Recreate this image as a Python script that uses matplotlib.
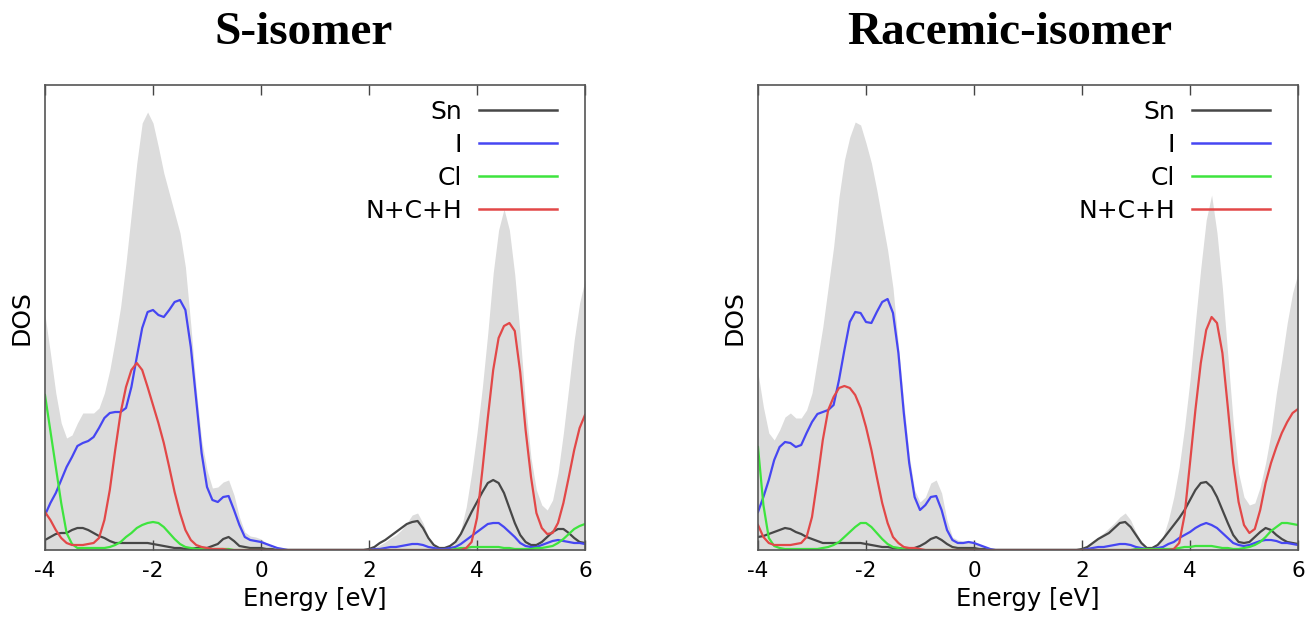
import numpy as np
import matplotlib.pyplot as plt

# energy grid, -4 .. 6 eV in 0.1 eV steps
energy = np.linspace(-4.0, 6.0, 101)

# DOS (arb. units), rows of ten points: -4.0..-3.1, -3.0..-2.1, ... , 5.0..5.9, 6.0
s_total = [
    235, 197, 157, 127, 112, 115, 127, 137, 137, 137,
    142, 157, 180, 210, 243, 287, 337, 387, 427, 438,
    427, 403, 377, 357, 337, 317, 283, 225, 162, 110,
    80, 62, 63, 68, 70, 55, 33, 18, 14, 13,
    11, 7, 3, 1, 0, 0, 0, 0, 0, 0,
    0, 0, 0, 0, 0, 0, 0, 0, 0, 0,
    0, 2, 5, 8, 12, 15, 20, 27, 35, 37,
    27, 13, 5, 2, 2, 3, 7, 20, 43, 77,
    117, 163, 217, 277, 320, 341, 320, 275, 215, 145,
    92, 60, 45, 40, 50, 77, 117, 163, 210, 247,
    270,
]
s_sn = [
    10, 13, 16, 17, 17, 20, 22, 22, 20, 17,
    14, 12, 9, 7, 7, 7, 7, 7, 7, 7,
    6, 5, 4, 3, 2, 2, 1, 1, 2, 2,
    2, 4, 6, 11, 13, 9, 4, 3, 2, 2,
    2, 1, 1, 0, 0, 0, 0, 0, 0, 0,
    0, 0, 0, 0, 0, 0, 0, 0, 0, 0,
    1, 3, 7, 10, 14, 18, 22, 26, 28, 29,
    22, 12, 5, 2, 2, 4, 8, 16, 27, 38,
    48, 58, 67, 70, 67, 57, 42, 27, 15, 8,
    5, 5, 8, 13, 18, 21, 21, 17, 12, 8,
    7,
]
s_i = [
    35, 47, 57, 70, 83, 93, 104, 107, 109, 113,
    122, 132, 137, 138, 138, 142, 163, 193, 222, 238,
    240, 235, 233, 240, 248, 250, 240, 203, 150, 97,
    63, 50, 48, 53, 54, 40, 25, 13, 10, 9,
    8, 6, 4, 2, 1, 0, 0, 0, 0, 0,
    0, 0, 0, 0, 0, 0, 0, 0, 0, 0,
    0, 1, 1, 2, 3, 3, 4, 5, 6, 6,
    5, 3, 2, 1, 1, 2, 3, 6, 10, 14,
    18, 22, 26, 27, 27, 23, 18, 13, 7, 4,
    3, 3, 5, 7, 9, 10, 9, 8, 7, 7,
    6,
]
s_cl = [
    155, 119, 83, 47, 17, 6, 2, 2, 2, 2,
    2, 2, 3, 5, 8, 13, 17, 22, 25, 27,
    28, 27, 23, 17, 11, 6, 3, 2, 1, 1,
    1, 1, 1, 1, 1, 0, 0, 0, 0, 0,
    0, 0, 0, 0, 0, 0, 0, 0, 0, 0,
    0, 0, 0, 0, 0, 0, 0, 0, 0, 0,
    0, 0, 0, 0, 0, 0, 0, 0, 0, 0,
    0, 0, 0, 0, 0, 0, 1, 2, 2, 3,
    3, 3, 3, 3, 3, 2, 2, 1, 1, 1,
    1, 2, 2, 3, 4, 7, 11, 16, 21, 24,
    26,
]
s_nch = [
    38, 30, 20, 12, 7, 5, 5, 5, 6, 7,
    12, 30, 60, 100, 137, 163, 180, 187, 180, 163,
    145, 127, 107, 83, 58, 37, 20, 10, 5, 3,
    2, 1, 1, 1, 0, 0, 0, 0, 0, 0,
    0, 0, 0, 0, 0, 0, 0, 0, 0, 0,
    0, 0, 0, 0, 0, 0, 0, 0, 0, 0,
    0, 0, 0, 0, 0, 0, 0, 0, 0, 0,
    0, 0, 0, 0, 0, 0, 0, 0, 2, 8,
    32, 80, 132, 180, 212, 224, 227, 219, 178, 120,
    73, 37, 22, 16, 17, 27, 47, 73, 100, 122,
    135,
]

r_total = [
    177, 143, 117, 110, 120, 133, 137, 132, 132, 140,
    157, 190, 223, 263, 303, 353, 390, 413, 428, 425,
    407, 387, 360, 330, 300, 262, 205, 148, 95, 60,
    48, 53, 67, 70, 57, 30, 13, 10, 9, 9,
    8, 5, 3, 1, 0, 0, 0, 0, 0, 0,
    0, 0, 0, 0, 0, 0, 0, 0, 0, 0,
    0, 3, 8, 13, 17, 22, 27, 33, 37, 30,
    18, 8, 3, 2, 5, 13, 30, 53, 83, 123,
    170, 228, 282, 330, 355, 317, 262, 195, 128, 77,
    53, 45, 47, 63, 87, 117, 157, 190, 227, 257,
    277,
]
r_sn = [
    13, 14, 16, 18, 20, 22, 21, 18, 16, 13,
    11, 9, 7, 7, 7, 7, 7, 7, 7, 7,
    6, 5, 4, 3, 3, 2, 2, 1, 1, 2,
    4, 7, 11, 13, 10, 6, 3, 2, 2, 2,
    2, 1, 1, 0, 0, 0, 0, 0, 0, 0,
    0, 0, 0, 0, 0, 0, 0, 0, 0, 0,
    1, 3, 7, 11, 14, 17, 22, 27, 28, 23,
    15, 7, 2, 2, 5, 11, 18, 25, 32, 40,
    50, 60, 67, 68, 63, 53, 40, 27, 15, 8,
    7, 8, 13, 18, 22, 20, 15, 11, 8, 7,
    6,
]
r_i = [
    38, 53, 70, 90, 103, 108, 107, 103, 105, 117,
    128, 136, 138, 140, 145, 170, 200, 228, 238, 237,
    228, 227, 238, 248, 251, 237, 197, 137, 87, 53,
    40, 45, 53, 54, 40, 20, 10, 7, 7, 8,
    7, 5, 3, 1, 0, 0, 0, 0, 0, 0,
    0, 0, 0, 0, 0, 0, 0, 0, 0, 0,
    0, 1, 2, 3, 3, 4, 5, 6, 6, 5,
    3, 2, 1, 1, 2, 3, 6, 8, 12, 15,
    18, 22, 25, 27, 25, 22, 17, 12, 7, 5,
    4, 5, 7, 9, 10, 10, 9, 7, 7, 6,
    5,
]
r_cl = [
    103, 45, 12, 4, 2, 1, 1, 1, 1, 1,
    1, 1, 2, 3, 5, 8, 13, 18, 23, 27,
    27, 23, 17, 11, 6, 3, 2, 1, 0, 0,
    0, 0, 0, 0, 0, 0, 0, 0, 0, 0,
    0, 0, 0, 0, 0, 0, 0, 0, 0, 0,
    0, 0, 0, 0, 0, 0, 0, 0, 0, 0,
    0, 0, 0, 0, 0, 0, 0, 0, 0, 0,
    1, 1, 1, 1, 1, 1, 1, 1, 2, 3,
    3, 4, 4, 4, 4, 3, 2, 2, 1, 1,
    2, 3, 5, 8, 13, 19, 23, 27, 27, 26,
    25,
]
r_nch = [
    25, 13, 7, 5, 5, 5, 5, 6, 7, 13,
    33, 70, 110, 140, 153, 162, 164, 162, 155, 142,
    123, 100, 73, 47, 27, 13, 7, 3, 2, 2,
    1, 0, 0, 0, 0, 0, 0, 0, 0, 0,
    0, 0, 0, 0, 0, 0, 0, 0, 0, 0,
    0, 0, 0, 0, 0, 0, 0, 0, 0, 0,
    0, 0, 0, 0, 0, 0, 0, 0, 0, 0,
    0, 0, 0, 0, 0, 0, 0, 1, 7, 35,
    87, 140, 187, 220, 233, 227, 197, 143, 87, 48,
    25, 17, 21, 40, 67, 87, 103, 117, 128, 137,
    141,
]

labels = ["Sn", "I", "Cl", "N+C+H"]
colors = ["#474747", "#4646f2", "#3ee43e", "#e24848"]
titles = ["S-isomer", "Racemic-isomer"]
xticks = [-4, -2, 0, 2, 4, 6]

W, H = 1312, 625
fig = plt.figure(figsize=(W / 100, H / 100), dpi=100)
ax1 = fig.add_axes([45 / W, 75 / H, 540 / W, 465 / H])
ax2 = fig.add_axes([758 / W, 75 / H, 540 / W, 465 / H])

panels = [
    (ax1, s_total, [s_sn, s_i, s_cl, s_nch]),
    (ax2, r_total, [r_sn, r_i, r_cl, r_nch]),
]

for ax, total, parts in panels:
    ax.fill_between(energy, 0, total, color="#dcdcdc", lw=0)
    for y, lab, c in zip(parts, labels, colors):
        ax.plot(energy, y, color=c, lw=1.6, label=lab, solid_joinstyle="round")

    ax.set_xlim(-4, 6)
    ax.set_ylim(0, 465)
    ax.set_xticks(xticks)
    ax.set_xticklabels([str(t) for t in xticks])
    ax.set_yticks([])
    ax.tick_params(axis="x", direction="in", top=True, length=7, width=1,
                   color="#444444", labelsize=15.5, pad=8)
    for sp in ax.spines.values():
        sp.set_color("#555555")
        sp.set_linewidth(1.2)
    ax.set_xlabel("Energy [eV]", fontsize=17.5, labelpad=4)
    ax.set_ylabel("DOS", fontsize=18, labelpad=8)

    leg = ax.legend(loc="upper right", bbox_to_anchor=(0.948, 0.968),
                    frameon=False, markerfirst=False, fontsize=18,
                    handlelength=3.1, handletextpad=0.7, labelspacing=0.36,
                    borderpad=0, borderaxespad=0)
    for ln in leg.get_lines():
        ln.set_linewidth(1.8)

fig.text(304 / W, 1 - 33 / H, titles[0], ha="center", va="center",
         fontsize=34, fontweight="bold", family="Liberation Serif")
fig.text(1010 / W, 1 - 33 / H, titles[1], ha="center", va="center",
         fontsize=34, fontweight="bold", family="Liberation Serif")

fig.savefig("out.png", dpi=100)
